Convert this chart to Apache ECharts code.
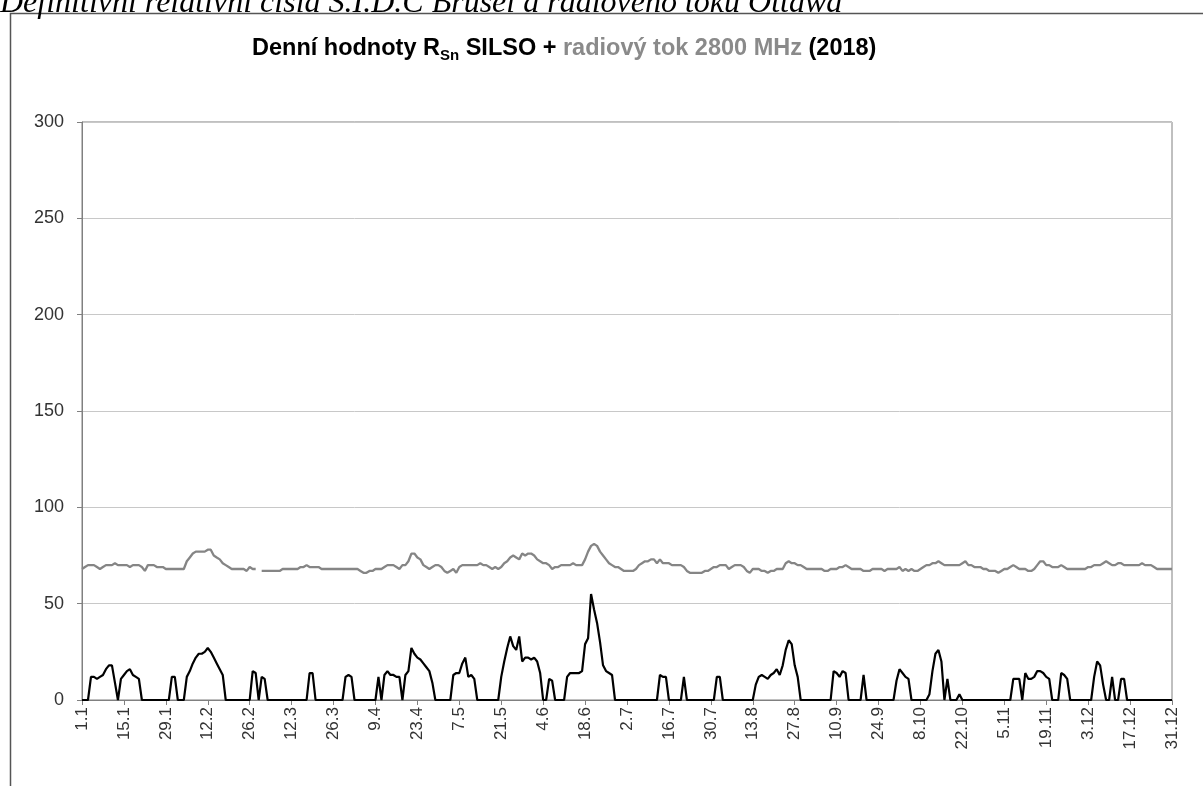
<!DOCTYPE html>
<html><head><meta charset="utf-8">
<script src="https://cdn.jsdelivr.net/npm/echarts@6/dist/echarts.min.js"></script>
<style>html,body{margin:0;padding:0;background:#fff}#c{width:1203px;height:786px}</style>
</head><body><div id="c"></div>
<script>
const year = 2018;
const days = [];
for (let i = 0; i < 365; i++) {
  const d = new Date(Date.UTC(year, 0, 1 + i));
  days.push(d.getUTCDate() + '.' + (d.getUTCMonth() + 1));
}
const yTicks = { min: 0, max: 300, step: 50 };

const sunspots = [
  0,0,0,12,12,11,12,13,16,18,
  18,9,0,11,13,15,16,13,12,11,
  0,0,0,0,0,0,0,0,0,0,
  12,12,0,0,0,12,15,19,22,24,
  24,25,27,25,22,19,16,13,0,0,
  0,0,0,0,0,0,0,15,14,0,
  12,11,0,0,0,0,0,0,0,0,
  0,0,0,0,0,0,14,14,0,0,
  0,0,0,0,0,0,0,0,12,13,
  12,0,0,0,0,0,0,0,0,12,
  0,13,15,13,13,12,12,0,13,15,
  27,24,22,21,19,17,15,9,0,0,
  0,0,0,0,13,14,14,19,22,12,
  13,11,0,0,0,0,0,0,0,0,
  12,20,27,33,28,26,33,20,22,22,
  21,22,20,14,0,0,11,10,0,0,
  0,0,12,14,14,14,14,15,29,32,
  55,47,40,30,18,15,14,13,0,0,
  0,0,0,0,0,0,0,0,0,0,
  0,0,0,13,12,12,0,0,0,0,
  0,12,0,0,0,0,0,0,0,0,
  0,0,12,12,0,0,0,0,0,0,
  0,0,0,0,0,8,12,13,12,11,
  13,14,16,13,18,26,31,29,18,12,
  0,0,0,0,0,0,0,0,0,0,
  0,15,14,12,15,14,0,0,0,0,
  0,13,0,0,0,0,0,0,0,0,
  0,0,10,16,14,12,11,0,0,0,
  0,0,0,3,15,24,26,20,0,11,
  0,0,0,3,0,0,0,0,0,0,
  0,0,0,0,0,0,0,0,0,0,
  0,11,11,11,0,14,11,11,12,15,
  15,14,12,11,0,0,0,14,13,11,
  0,0,0,0,0,0,0,0,12,20,
  18,8,0,0,12,0,0,11,11,0,
  0,0,0,0,0,0,0,0,0,0,
  0,0,0,0,0
];

const radioFlux = [
  68,69,70,70,70,69,68,69,70,70,
  70,71,70,70,70,70,69,70,70,70,
  69,67,70,70,70,69,69,69,68,68,
  68,68,68,68,68,72,74,76,77,77,
  77,77,78,78,75,74,73,71,70,69,
  68,68,68,68,68,67,69,68,68,null,
  67,67,67,67,67,67,67,68,68,68,
  68,68,68,69,69,70,69,69,69,69,
  68,68,68,68,68,68,68,68,68,68,
  68,68,68,67,66,66,67,67,68,68,
  68,69,70,70,70,69,68,70,70,72,
  76,76,74,73,70,69,68,69,70,70,
  69,67,66,67,68,66,69,70,70,70,
  70,70,70,71,70,70,69,68,69,68,
  69,71,72,74,75,74,73,76,75,76,
  76,75,73,72,71,71,70,68,69,69,
  70,70,70,70,71,70,70,70,73,77,
  80,81,80,77,75,73,71,70,69,69,
  68,67,67,67,67,68,70,71,72,72,
  73,73,71,73,71,71,71,70,70,70,
  70,69,67,66,66,66,66,66,67,67,
  68,69,69,70,70,70,68,69,70,70,
  70,69,67,66,68,68,68,67,67,66,
  67,67,68,68,68,71,72,71,71,70,
  70,69,68,68,68,68,68,68,67,67,
  68,68,68,69,69,70,69,68,68,68,
  68,67,67,67,68,68,68,68,67,68,
  68,68,68,69,67,68,67,68,67,67,
  68,69,70,70,71,71,72,71,70,70,
  70,70,70,70,71,72,70,70,69,69,
  69,68,68,67,67,67,66,67,68,68,
  69,70,69,68,68,68,67,67,68,70,
  72,72,70,70,69,69,69,70,69,68,
  68,68,68,68,68,68,69,69,70,70,
  70,71,72,71,70,70,71,71,70,70,
  70,70,70,70,71,70,70,70,69,68,
  68,68,68,68,68
];

const chart = echarts.init(document.getElementById('c'), null, { renderer: 'canvas' });
chart.setOption({
  animation: false,
  backgroundColor: '#ffffff',
  textStyle: { fontFamily: '"Liberation Sans", Arial, sans-serif' },
  title: {
    text: '{b|Denní hodnoty R}{s|Sn}{b| SILSO + }{g|radiový tok 2800 MHz}{b| (2018)}',
    left: 247,
    top: 30,
    textStyle: {
      rich: {
        b: { fontSize: 23.5, fontWeight: 'bold', color: '#000', lineHeight: 28, fontFamily: '"Liberation Sans", Arial' },
        g: { fontSize: 23.5, fontWeight: 'bold', color: '#8a8a8a', lineHeight: 28, fontFamily: '"Liberation Sans", Arial' },
        s: { fontSize: 15, fontWeight: 'bold', color: '#000', lineHeight: 13, verticalAlign: 'bottom', fontFamily: '"Liberation Sans", Arial' }
      }
    }
  },
  graphic: [
    { type: 'rect', silent: true, z: -10, shape: { x: 10.5, y: 13.5, width: 1400, height: 1000 },
      style: { fill: 'none', stroke: '#555', lineWidth: 1.5 } },
    { type: 'text', silent: true, x: 0, y: 20,
      style: { text: 'Definitivní relativní čísla S.I.D.C Brusel a radiového toku Ottawa',
               font: 'italic 32px "Liberation Serif", "Times New Roman", serif', fill: '#000', verticalAlign: 'bottom' } }
  ],
  grid: { left: 82, right: 31, top: 122, bottom: 86, show: true, borderColor: '#808080', borderWidth: 1, backgroundColor: 'transparent' },
  xAxis: {
    type: 'category',
    data: days,
    boundaryGap: false,
    axisLine: { lineStyle: { color: '#808080', width: 1 } },
    axisTick: { interval: 13, length: 5, lineStyle: { color: '#808080' } },
    axisLabel: { interval: 13, rotate: 90, fontSize: 17, color: '#333', margin: 7 },
    splitLine: { show: false }
  },
  yAxis: {
    type: 'value',
    min: yTicks.min, max: yTicks.max, interval: yTicks.step,
    axisLine: { show: true, lineStyle: { color: '#808080', width: 1 } },
    axisTick: { show: true, length: 5, lineStyle: { color: '#808080' } },
    axisLabel: { fontSize: 18, color: '#333', margin: 18 },
    splitLine: { lineStyle: { color: '#c8c8c8', width: 1 } }
  },
  series: [
    { name: 'radiový tok 2800 MHz', type: 'line', data: radioFlux, showSymbol: false, connectNulls: false,
      lineStyle: { color: '#858585', width: 2.3 }, z: 2 },
    { name: 'RSn SILSO', type: 'line', data: sunspots, showSymbol: false,
      lineStyle: { color: '#000', width: 2.2 }, z: 3 }
  ]
});
</script>
</body></html>
